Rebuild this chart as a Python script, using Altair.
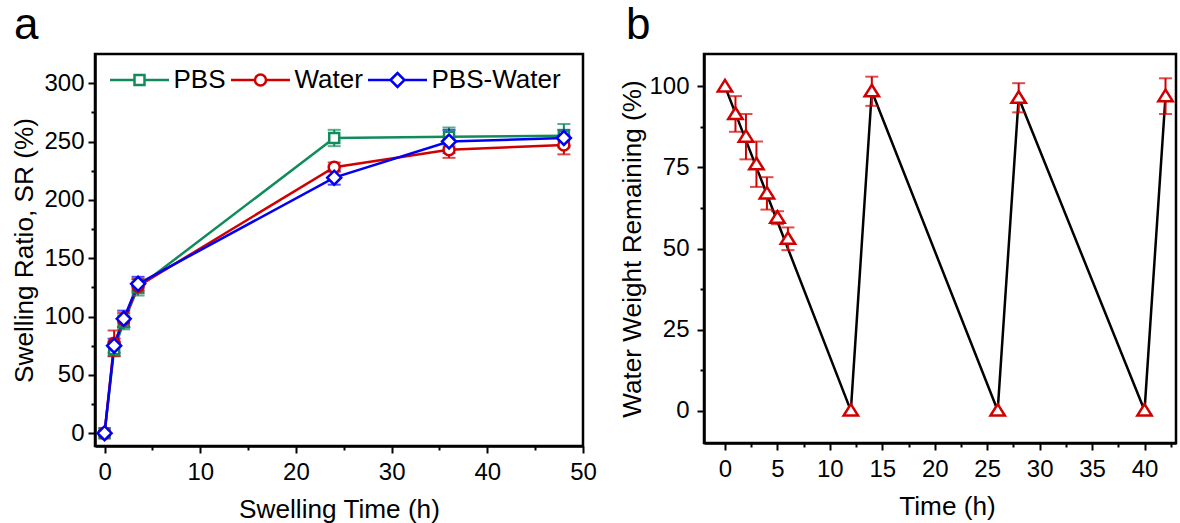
import altair as alt
import pandas as pd

FONT = "Liberation Sans"

# ---------------- Panel a data ----------------
swell_time = [0, 1, 2, 3.5, 24, 36, 48]
series_names = ["PBS", "Water", "PBS-Water"]
pbs_sr = [0, 72, 95, 125, 253, 254, 255]
pbs_err = [0, 6, 6, 7, 7, 8, 10]
water_sr = [0, 77, 97, 126, 228, 243, 247]
water_err = [0, 11, 6, 6, 4, 7, 8]
pbsw_sr = [0, 75, 98, 128, 219, 250, 253]
pbsw_err = [0, 6, 7, 6, 6, 10, 7]
series_colors = ["#128B5C", "#D00000", "#0000F5"]

# ---------------- Panel b data ----------------
cycle_time = [0, 1, 2, 3, 4, 5, 6, 12, 14, 26, 28, 40, 42]
water_remaining = [100, 91.5, 84.5, 76, 67, 59.5, 53, 0, 98.5, 0, 96.5, 0, 97]
remaining_err = [0, 5.5, 7, 7, 5, 2, 3.5, 0, 4.5, 0, 4.5, 0, 5.5]
b_color = "#D00000"

# ---------------- build tables ----------------
rows = []
for name, vals, errs in [("PBS", pbs_sr, pbs_err), ("Water", water_sr, water_err),
                         ("PBS-Water", pbsw_sr, pbsw_err)]:
    for t, v, e in zip(swell_time, vals, errs):
        rows.append({"series": name, "t": t, "v": v, "err": e, "lo": v - e, "hi": v + e,
                     "order": series_names.index(name)})
df_a = pd.DataFrame(rows)

df_b = pd.DataFrame({"t": cycle_time, "v": water_remaining, "err": remaining_err})
df_b["lo"] = df_b["v"] - df_b["err"]
df_b["hi"] = df_b["v"] + df_b["err"]

# marker / legend symbol paths (unit box, drawn with size 400 -> 10 px per unit)
marker_paths = [
    "M-0.5,-0.5H0.5V0.5H-0.5Z",
    "M0.55,0A0.55,0.55,0,1,1,-0.55,0A0.55,0.55,0,1,1,0.55,0Z",
    "M-0.7,0L0,-0.7L0.7,0L0,0.7Z",
]
legend_paths = [
    "M-1,0H1.45M2.45,0H4.9M1.45,-0.5H2.45V0.5H1.45Z",
    "M-1,0H1.4M2.5,0H4.9M2.5,0A0.55,0.55,0,1,1,1.4,0A0.55,0.55,0,1,1,2.5,0Z",
    "M-1,0H1.25M2.65,0H4.9M1.25,0L1.95,-0.7L2.65,0L1.95,0.7Z",
]
triangle_path = "M0,-0.65L0.72,0.5H-0.72Z"

# ---------------- Panel a ----------------
xa_scale = alt.Scale(domain=[-1, 50], nice=False, zero=False)
ya_scale = alt.Scale(domain=[-11, 325], nice=False, zero=False)
color_scale = alt.Scale(domain=series_names, range=series_colors)

xa_major = alt.Axis(values=[0, 10, 20, 30, 40, 50], title="Swelling Time (h)", orient="bottom",
                    labelFlush=False, labelOverlap=False, labelPadding=7, titlePadding=12)
ya_major = alt.Axis(values=[0, 50, 100, 150, 200, 250, 300], title="Swelling Ratio, SR (%)",
                    orient="left", labelFlush=False, labelOverlap=False, labelPadding=4,
                    titlePadding=5)
xa_minor = alt.Axis(values=[5, 15, 25, 35, 45], labels=False, title=None, domain=False,
                    tickSize=4, orient="bottom")
ya_minor = alt.Axis(values=[25, 75, 125, 175, 225, 275], labels=False, title=None, domain=False,
                    tickSize=4, orient="left")

base_a = alt.Chart(df_a)

lines_a = base_a.mark_line(strokeWidth=2.5).encode(
    x=alt.X("t:Q", scale=xa_scale, axis=xa_major),
    y=alt.Y("v:Q", scale=ya_scale, axis=ya_major),
    color=alt.Color("series:N", scale=color_scale, legend=None),
    order=alt.Order("order:Q"),
)

err_a = base_a.transform_filter("datum.err > 0").mark_rule(strokeWidth=2).encode(
    x=alt.X("t:Q", scale=xa_scale, axis=None),
    y=alt.Y("lo:Q", scale=ya_scale, axis=None),
    y2="hi:Q",
    color=alt.Color("series:N", scale=color_scale, legend=None),
)

caps_a = base_a.transform_filter("datum.err > 0").transform_fold(
    ["lo", "hi"], as_=["end", "yv"]
).mark_tick(orient="horizontal", size=13, thickness=2).encode(
    x=alt.X("t:Q", scale=xa_scale, axis=None),
    y=alt.Y("yv:Q", scale=ya_scale, axis=None),
    color=alt.Color("series:N", scale=color_scale, legend=None),
)

markers_a = base_a.mark_point(filled=True, fill="white", strokeWidth=2.5, size=400, opacity=1).encode(
    x=alt.X("t:Q", scale=xa_scale, axis=None),
    y=alt.Y("v:Q", scale=ya_scale, axis=None),
    stroke=alt.Stroke("series:N", scale=color_scale, legend=None),
    shape=alt.Shape("series:N", scale=alt.Scale(domain=series_names, range=marker_paths), legend=None),
    order=alt.Order("order:Q"),
)

leg = alt.Legend(orient="none", legendX=12, legendY=13, direction="horizontal", columns=3,
                 title=None, symbolSize=400, symbolStrokeWidth=2.5, labelFont=FONT,
                 labelFontSize=26, labelColor="black", labelOffset=40.5, columnPadding=0,
                 labelLimit=300)

legend_a = base_a.mark_point(filled=False, size=400, strokeWidth=2.5).encode(
    x=alt.X("t:Q", scale=xa_scale, axis=None),
    y=alt.Y("v:Q", scale=ya_scale, axis=None),
    color=alt.Color("series:N", scale=color_scale, legend=leg),
    shape=alt.Shape("series:N", scale=alt.Scale(domain=series_names, range=legend_paths), legend=leg),
    opacity=alt.value(0),
)

minor_a = base_a.mark_line(opacity=0).encode(
    x=alt.X("t:Q", scale=xa_scale, axis=xa_minor),
    y=alt.Y("v:Q", scale=ya_scale, axis=ya_minor),
    detail="series:N",
)

panel_a = alt.layer(lines_a, err_a, caps_a, markers_a, legend_a, minor_a).resolve_scale(
    color="independent", shape="independent", stroke="independent"
).resolve_axis(x="independent", y="independent").properties(
    width=488, height=392,
    title=alt.TitleParams("a", anchor="start", frame="bounds", fontSize=44, offset=6, dx=2),
)

# ---------------- Panel b ----------------
xb_scale = alt.Scale(domain=[-2, 43], nice=False, zero=False)
yb_scale = alt.Scale(domain=[-10, 110], nice=False, zero=False)

xb_major = alt.Axis(values=[0, 5, 10, 15, 20, 25, 30, 35, 40], title="Time (h)", orient="bottom",
                    labelFlush=False, labelOverlap=False, labelPadding=7, titlePadding=12,
                    titleX=243)
yb_major = alt.Axis(values=[0, 25, 50, 75, 100], title="Water Weight Remaining (%)", orient="left",
                    labelFlush=False, labelOverlap=False, labelPadding=8, titlePadding=2)
xb_minor = alt.Axis(values=[2.5, 7.5, 12.5, 17.5, 22.5, 27.5, 32.5, 37.5, 42.5], labels=False,
                    title=None, domain=False, tickSize=4, orient="bottom")
yb_minor = alt.Axis(values=[12.5, 37.5, 62.5, 87.5], labels=False, title=None, domain=False,
                    tickSize=4, orient="left")

base_b = alt.Chart(df_b)

line_b = base_b.transform_filter("datum.t == 0 || datum.t >= 12").mark_line(
    strokeWidth=2.5, color="black"
).encode(
    x=alt.X("t:Q", scale=xb_scale, axis=xb_major),
    y=alt.Y("v:Q", scale=yb_scale, axis=yb_major),
)

err_b = base_b.transform_filter("datum.err > 0").mark_rule(strokeWidth=2, color=b_color).encode(
    x=alt.X("t:Q", scale=xb_scale, axis=None),
    y=alt.Y("lo:Q", scale=yb_scale, axis=None),
    y2="hi:Q",
)

caps_b = base_b.transform_filter("datum.err > 0").transform_fold(
    ["lo", "hi"], as_=["end", "yv"]
).mark_tick(orient="horizontal", size=13, thickness=2, color=b_color).encode(
    x=alt.X("t:Q", scale=xb_scale, axis=None),
    y=alt.Y("yv:Q", scale=yb_scale, axis=None),
)

markers_b = base_b.mark_point(filled=True, fill="white", stroke=b_color, strokeWidth=2.5,
                              size=400, shape=triangle_path, opacity=1).encode(
    x=alt.X("t:Q", scale=xb_scale, axis=None),
    y=alt.Y("v:Q", scale=yb_scale, axis=None),
)

minor_b = base_b.mark_line(opacity=0).encode(
    x=alt.X("t:Q", scale=xb_scale, axis=xb_minor),
    y=alt.Y("v:Q", scale=yb_scale, axis=yb_minor),
)

panel_b = alt.layer(line_b, err_b, caps_b, markers_b, minor_b).resolve_axis(
    x="independent", y="independent"
).properties(
    width=472, height=389,
    title=alt.TitleParams("b", anchor="start", frame="bounds", fontSize=44, offset=6, dx=6),
)

chart = alt.hconcat(panel_a, panel_b, spacing=121, bounds="flush").properties(
    padding={"left": 10, "top": 2, "right": 0, "bottom": 0},
    background="white",
).configure_axis(
    labelFont=FONT, titleFont=FONT, labelFontSize=24, titleFontSize=26.2, titleFontWeight="normal",
    labelColor="black", titleColor="black", domainColor="black", domainWidth=2.5,
    tickColor="black", tickWidth=2, tickSize=7, grid=False,
).configure_view(stroke="black", strokeWidth=2.5).configure_title(
    font=FONT, fontWeight="normal", color="black"
)

chart.save("out.html", embed_options={"renderer": "svg", "actions": False})
